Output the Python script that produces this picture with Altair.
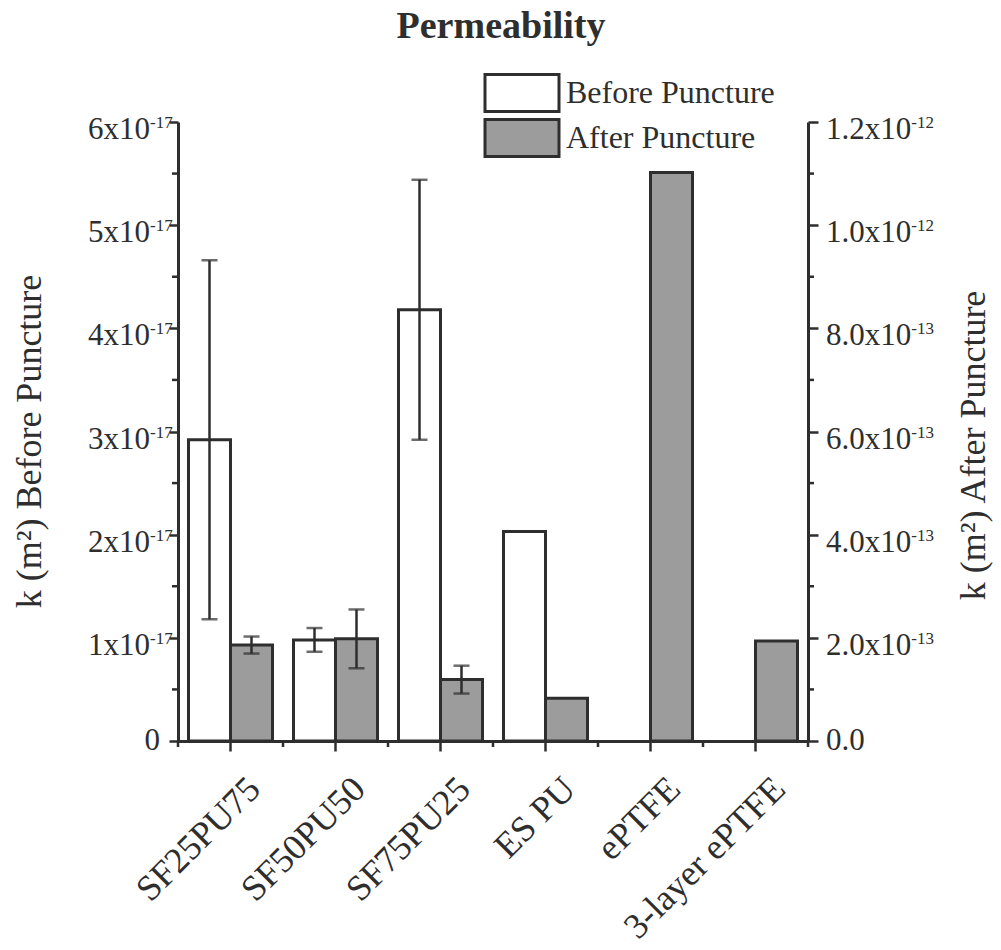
import altair as alt
import pandas as pd

# ---------------- data ----------------
categories = ["SF25PU75", "SF50PU50", "SF75PU25", "ES PU", "ePTFE", "3-layer ePTFE"]
series = ["Before Puncture", "After Puncture"]

before_vals = [2.92e-17, 0.98e-17, 4.18e-17, 2.03e-17, None, None]
before_err = [1.74e-17, 0.115e-17, 1.26e-17, None, None, None]
after_vals = [1.86e-13, 1.98e-13, 1.19e-13, 0.83e-13, 1.102e-12, 1.94e-13]
after_err = [0.165e-13, 0.57e-13, 0.27e-13, None, None, None]

left_major = [0, 1e-17, 2e-17, 3e-17, 4e-17, 5e-17, 6e-17]
left_minor = [0.5e-17, 1.5e-17, 2.5e-17, 3.5e-17, 4.5e-17, 5.5e-17]
left_label_main = ["0", "1x10", "2x10", "3x10", "4x10", "5x10", "6x10"]
left_label_sup = ["", "-17", "-17", "-17", "-17", "-17", "-17"]

right_major = [0, 2e-13, 4e-13, 6e-13, 8e-13, 1.0e-12, 1.2e-12]
right_minor = [1e-13, 3e-13, 5e-13, 7e-13, 9e-13, 1.1e-12]
right_label_main = ["0.0", "2.0x10", "4.0x10", "6.0x10", "8.0x10", "1.0x10", "1.2x10"]
right_label_sup = ["", "-13", "-13", "-13", "-13", "-12", "-12"]

# ---------------- tables ----------------
rows = []
for c, v, e in zip(categories, before_vals, before_err):
    rows.append(dict(cat=c, series=series[0], value=v, err=e))
for c, v, e in zip(categories, after_vals, after_err):
    rows.append(dict(cat=c, series=series[1], value=v, err=e))
df = pd.DataFrame(rows)
df["lo"] = df["value"] - df["err"]
df["hi"] = df["value"] + df["err"]

df_before = df[df.series == series[0]].dropna(subset=["value"])
df_after = df[df.series == series[1]].dropna(subset=["value"])
eb_before = df_before.dropna(subset=["err"])
eb_after = df_after.dropna(subset=["err"])

lt = pd.DataFrame(dict(v=left_major, main=left_label_main, sup=left_label_sup))
rt = pd.DataFrame(dict(v=right_major, main=right_label_main, sup=right_label_sup))
lmin = pd.DataFrame(dict(v=left_minor))
rmin = pd.DataFrame(dict(v=right_minor))
cats_df = pd.DataFrame(dict(cat=categories))

# ---------------- style ----------------
W, H = 630, 619
FONT = "Liberation Serif"
INK = "#2e2e2e"
HATCH = "#9c9c9c"
FS = 31
SUP = 17

xscale = alt.Scale(domain=categories, paddingInner=0, paddingOuter=0)
xoff = alt.XOffset("series:N", scale=alt.Scale(domain=series, paddingInner=0, paddingOuter=0.25))
fill_scale = alt.Scale(domain=series, range=["white", HATCH])
yL = alt.Scale(domain=[0, 6e-17], nice=False, zero=True)
yR = alt.Scale(domain=[0, 1.2e-12], nice=False, zero=True)

xaxis = alt.Axis(title=None, labelAngle=315, labelFont=FONT, labelFontSize=36,
                 labelColor=INK, tickSize=10, tickWidth=2.5, tickColor=INK,
                 domainColor=INK, domainWidth=3, labelPadding=20, labelOffset=12,
                 grid=False, labelLimit=400)

legend = alt.Legend(orient="none", legendX=324, legendY=-49, title=None,
                    symbolType="M-2,-1L2,-1L2,1L-2,1Z", symbolSize=1369,
                    symbolStrokeColor=INK, symbolStrokeWidth=3, symbolOpacity=1,
                    labelFont=FONT, labelFontSize=32, labelColor=INK,
                    labelOffset=24, rowPadding=-15, padding=0, labelLimit=400)

left_axis = alt.Axis(orient="left", values=left_major, labels=False, grid=False,
                     tickSize=9, tickWidth=2.5, tickColor=INK, domainColor=INK, domainWidth=3,
                     title="k (m²) Before Puncture", titleFont=FONT, titleFontSize=36,
                     titleFontWeight="normal", titleColor=INK, titleAngle=270,
                     titleX=-138, titleY=319, titleBaseline="alphabetic")

right_axis = alt.Axis(orient="right", values=right_major, labels=False, grid=False,
                      tickSize=10, tickWidth=2.5, tickColor=INK, domainColor=INK, domainWidth=3,
                      title="k (m²) After Puncture", titleFont=FONT, titleFontSize=36,
                      titleFontWeight="normal", titleColor=INK, titleAngle=270,
                      titleX=176, titleY=323, titleBaseline="alphabetic")

# every layer that uses x carries the same axis definition so the shared axis merges cleanly
xenc = alt.X("cat:N", scale=xscale, axis=xaxis)

# ---------------- Before (left axis) ----------------
bars_b = alt.Chart(df_before).mark_bar(stroke=INK, strokeWidth=3).encode(
    x=xenc, xOffset=xoff,
    y=alt.Y("value:Q", scale=yL, axis=left_axis),
    fill=alt.Fill("series:N", scale=fill_scale, legend=legend),
)
err_b = alt.Chart(eb_before).mark_rule(color=INK, strokeWidth=2.5).encode(
    x=xenc, xOffset=xoff,
    y=alt.Y("lo:Q", scale=yL, axis=None), y2="hi:Q",
)
cap_b = alt.Chart(eb_before).transform_fold(["lo", "hi"], as_=["k", "e"]).mark_tick(
    color=INK, size=16, thickness=2.5).encode(
    x=xenc, xOffset=xoff,
    y=alt.Y("e:Q", scale=yL, axis=None),
)
lab_b = alt.Chart(lt).transform_filter("datum.v > 0").mark_text(
    align="right", baseline="middle", font=FONT, fontSize=FS, color=INK, dy=8).encode(
    y=alt.Y("v:Q", scale=yL, axis=None), x=alt.value(-28), text="main:N")
lab_b0 = alt.Chart(lt).transform_filter("datum.v == 0").mark_text(
    align="right", baseline="middle", font=FONT, fontSize=FS, color=INK).encode(
    y=alt.Y("v:Q", scale=yL, axis=None), x=alt.value(-18), text="main:N")
sup_b = alt.Chart(lt).transform_filter("datum.v > 0").mark_text(
    align="left", baseline="alphabetic", font=FONT, fontSize=SUP, color=INK, dy=6).encode(
    y=alt.Y("v:Q", scale=yL, axis=None), x=alt.value(-28), text="sup:N")
minor_b = alt.Chart(lmin).mark_rule(color=INK, strokeWidth=2.5).encode(
    y=alt.Y("v:Q", scale=yL, axis=None), x=alt.value(0), x2=alt.value(-6))

minor_x = alt.Chart(cats_df).mark_rule(color=INK, strokeWidth=2.5).encode(
    x=alt.X("cat:N", scale=xscale, axis=xaxis, bandPosition=0),
    y=alt.value(H), y2=alt.value(H + 6))
minor_x_end = alt.Chart(cats_df).transform_filter(
    alt.datum.cat == categories[-1]).mark_rule(color=INK, strokeWidth=2.5).encode(
    x=alt.X("cat:N", scale=xscale, axis=xaxis, bandPosition=1),
    y=alt.value(H), y2=alt.value(H + 6))

# ---------------- After (right axis) ----------------
bars_a = alt.Chart(df_after).mark_bar(stroke=INK, strokeWidth=3).encode(
    x=xenc, xOffset=xoff,
    y=alt.Y("value:Q", scale=yR, axis=right_axis),
    fill=alt.Fill("series:N", scale=fill_scale, legend=None),
)
err_a = alt.Chart(eb_after).mark_rule(color=INK, strokeWidth=2.5).encode(
    x=xenc, xOffset=xoff,
    y=alt.Y("lo:Q", scale=yR, axis=None), y2="hi:Q",
)
cap_a = alt.Chart(eb_after).transform_fold(["lo", "hi"], as_=["k", "e"]).mark_tick(
    color=INK, size=16, thickness=2.5).encode(
    x=xenc, xOffset=xoff,
    y=alt.Y("e:Q", scale=yR, axis=None),
)
lab_a = alt.Chart(rt).transform_filter("datum.v > 0").mark_text(
    align="left", baseline="middle", font=FONT, fontSize=FS, color=INK, dy=8).encode(
    y=alt.Y("v:Q", scale=yR, axis=None), x=alt.value(W + 18), text="main:N")
lab_a0 = alt.Chart(rt).transform_filter("datum.v == 0").mark_text(
    align="left", baseline="middle", font=FONT, fontSize=FS, color=INK).encode(
    y=alt.Y("v:Q", scale=yR, axis=None), x=alt.value(W + 18), text="main:N")
sup_a = alt.Chart(rt).transform_filter("datum.v > 0").mark_text(
    align="left", baseline="alphabetic", font=FONT, fontSize=SUP, color=INK, dy=6).encode(
    y=alt.Y("v:Q", scale=yR, axis=None), x=alt.value(W + 18 + 2.75 * FS), text="sup:N")
minor_a = alt.Chart(rmin).mark_rule(color=INK, strokeWidth=2.5).encode(
    y=alt.Y("v:Q", scale=yR, axis=None), x=alt.value(W), x2=alt.value(W + 6))

chart = alt.layer(
    bars_b, bars_a, err_b, cap_b, err_a, cap_a,
    lab_b, lab_b0, sup_b, minor_b, lab_a, lab_a0, sup_a, minor_a, minor_x, minor_x_end
).resolve_scale(y="independent").properties(
    width=W, height=H,
    autosize="none",
    padding={"left": 178, "top": 122, "right": 1001 - 178 - W, "bottom": 950 - 122 - H},
    background="white",
    title=alt.TitleParams("Permeability", font=FONT, fontSize=38, fontWeight="bold",
                          color=INK, anchor="middle", dx=8, offset=27),
).configure_view(stroke=None)

chart.save("out.html", embed_options={"renderer": "svg", "actions": False})
